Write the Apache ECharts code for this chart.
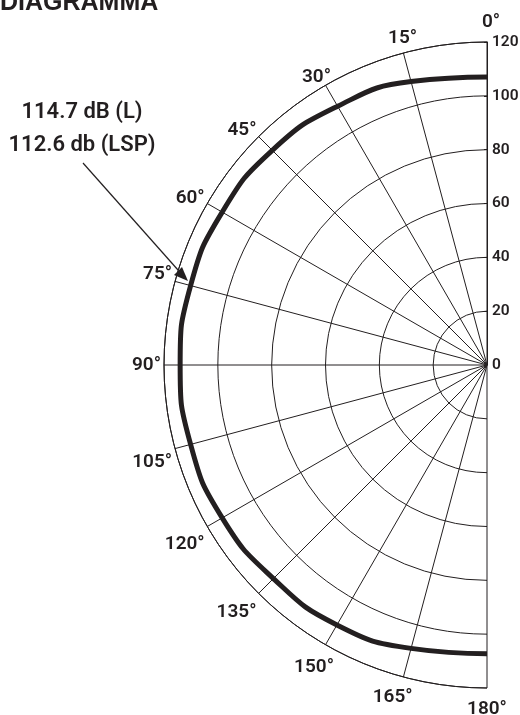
<!DOCTYPE html>
<html><head><meta charset="utf-8">
<script src="https://cdn.jsdelivr.net/npm/echarts@6/dist/echarts.min.js"></script>
<style>html,body{margin:0;padding:0;background:#fff}#c{width:520px;height:715px}</style>
</head><body><div id="c"></div>
<script>
// ---- data ----
const title = 'DIAGRAMMA';
const angles = [0, 15, 30, 45, 60, 75, 90, 105, 120, 135, 150, 165, 180];
const levels = [107, 109, 111, 112.8, 113.6, 114, 114, 114, 113.6, 112.2, 111.5, 109, 107.3];
const radiusMin = 0, radiusMax = 120, radiusStep = 20;
const angleMin = 0, angleMax = 180, angleStep = 15;
const annotationLines = ['114.7 dB (L)', '112.6 db (LSP)'];

const FONT = "Roboto, 'Liberation Sans', Arial, sans-serif";
const INK = '#231f20';

// per-label nudges of the angle labels [top, right, bottom, left] padding
const labelPad = {
  0: [0, 0, 7, 8], 15: [0, 0, 2, 0], 30: [0, -7, -4, 0], 45: [0, 0, -5, 0], 60: [0, 0, -6, 0],
  75: [0, 0, 12, 0], 105: [26, 0, 0, 0], 120: [7, 0, 0, 0], 135: [7, 0, 0, 0],
  150: [10, -10, 0, 0], 165: [8, 20, 0, 0], 180: [9, 0, 0, 0]
};
const rich = {};
angles.forEach(a => {
  rich['a' + a] = { color: INK, fontFamily: FONT, fontWeight: 600, fontSize: 19, padding: labelPad[a] || [0, 0, 0, 0] };
});

const chart = echarts.init(document.getElementById('c'), null, {renderer: 'canvas'});
const option = {
  backgroundColor: '#fff',
  animation: false,
  polar: { center: [487, 365], radius: 323 },
  angleAxis: {
    type: 'value', min: angleMin, max: angleMax, interval: angleStep,
    startAngle: 90, endAngle: 270, clockwise: false,
    axisLine: { show: true, lineStyle: { color: INK, width: 1 } },
    axisTick: { show: false },
    splitLine: { show: true, lineStyle: { color: INK, width: 1 } },
    axisLabel: {
      show: true, margin: 3, rich: rich,
      formatter: v => '{a' + v + '|' + v + '°}'
    }
  },
  radiusAxis: {
    type: 'value', min: radiusMin, max: radiusMax, interval: radiusStep,
    axisLine: { show: true, lineStyle: { color: INK, width: 1 } },
    axisTick: { show: true, inside: true, length: 3, lineStyle: { color: INK } },
    splitLine: { show: true, lineStyle: { color: INK, width: 1 } },
    axisLabel: { show: true, inside: true, align: 'left', color: INK, fontFamily: FONT, fontWeight: 600, fontSize: 15.5, margin: -5 }
  },
  series: [{
    type: 'line', coordinateSystem: 'polar',
    data: angles.map((a, i) => [levels[i], a]),
    smooth: true, symbol: 'none',
    lineStyle: { color: INK, width: 5 }
  }],
  graphic: [
    { type: 'text', left: 0, top: -9, style: { text: title, font: "bold 25px 'Liberation Sans', Arial, sans-serif", fill: INK } },
    { type: 'text', x: 82, y: 112, style: { text: annotationLines[0], font: "600 22px " + FONT, fill: INK, align: 'center', verticalAlign: 'middle' } },
    { type: 'text', x: 82, y: 145, style: { text: annotationLines[1], font: "600 22px " + FONT, fill: INK, align: 'center', verticalAlign: 'middle' } },
    { type: 'line', shape: { x1: 83, y1: 163, x2: 178, y2: 270 }, style: { stroke: INK, lineWidth: 1.2 } },
    { type: 'polygon', shape: { points: [[188, 281], [174, 275], [182, 267]] }, style: { fill: INK } }
  ]
};
chart.setOption(option);
</script></body></html>
